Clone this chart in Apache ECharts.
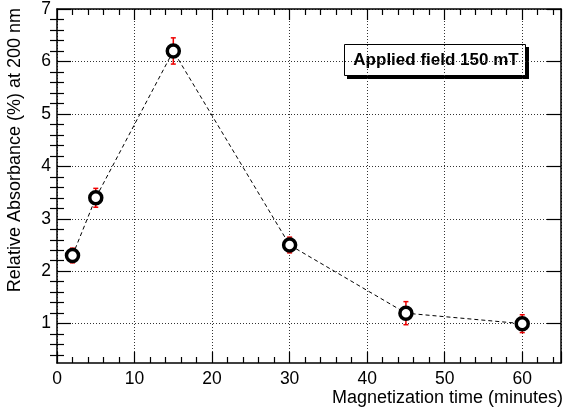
<!DOCTYPE html>
<html>
<head>
<meta charset="utf-8">
<script src="https://cdn.jsdelivr.net/npm/echarts@6/dist/echarts.min.js"></script>
<style>
    html, body { margin: 0; padding: 0; background: #fff; }
    #chart { width: 567px; height: 413px; }
</style>
</head>
<body>
<div id="chart"></div>
<script>
// magnetization time (minutes) and relative absorbance (%)
const times = [2, 5, 15, 30, 45, 60]
const absorb = [2.3, 3.4, 6.2, 2.5, 1.2, 1.0]
const errors = [0.14, 0.18, 0.25, 0.15, 0.22, 0.17]
const xMajor = [0, 10, 20, 30, 40, 50, 60]
const yMajor = [1, 2, 3, 4, 5, 6, 7]
const yMinor = [0.4, 0.6, 0.8, 1.2, 1.4, 1.6, 1.8, 2.2, 2.4, 2.6, 2.8, 3.2, 3.4, 3.6, 3.8,
    4.2, 4.4, 4.6, 4.8, 5.2, 5.4, 5.6, 5.8, 6.2, 6.4, 6.6, 6.8]

const font = 'Liberation Sans'
const points = times.map((t, i) => [t, absorb[i]])
const errData = times.map((t, i) => [t, absorb[i], errors[i]])

const xBase = {
    type: 'value',
    min: 0,
    max: 65,
    interval: 10,
    axisLine: { show: true, onZero: false, lineStyle: { color: '#000', width: 1.5 } },
    axisTick: { show: true, inside: true, length: 11, lineStyle: { color: '#000', width: 1.2 } },
    minorTick: { show: true, splitNumber: 5, length: 6, lineStyle: { color: '#000', width: 1.2 } },
}

const yBase = {
    type: 'value',
    min: 0.25,
    max: 7,
    axisLine: { show: true, onZero: false, lineStyle: { color: '#000', width: 1.5 } },
    axisTick: { show: true, inside: true, length: 14, customValues: yMajor, lineStyle: { color: '#000', width: 1.2 } },
}

const option = {
    animation: false,
    backgroundColor: '#fff',
    grid: { left: 57, right: 6, top: 9, bottom: 50 },
    xAxis: [
        Object.assign({}, xBase, {
            position: 'bottom',
            axisLabel: { color: '#000', fontSize: 17.5, fontFamily: font, margin: 7, customValues: xMajor },
            splitLine: { show: true, lineStyle: { color: '#333', type: [1, 2], width: 1 } },
        }),
        Object.assign({}, xBase, {
            position: 'top',
            axisLabel: { show: false },
            splitLine: { show: false },
        }),
    ],
    yAxis: [
        Object.assign({}, yBase, {
            position: 'left',
            axisLabel: { color: '#000', fontSize: 17.5, fontFamily: font, margin: 6, customValues: yMajor },
            splitLine: { show: true, lineStyle: { color: '#333', type: [1, 2], width: 1 } },
        }),
        Object.assign({}, yBase, {
            position: 'right',
            axisLabel: { show: false },
            splitLine: { show: false },
        }),
        // minor ticks on both sides
        Object.assign({}, yBase, {
            position: 'left',
            axisLine: { show: false },
            axisTick: { show: true, inside: true, length: 7, customValues: yMinor, lineStyle: { color: '#000', width: 1.2 } },
            axisLabel: { show: false },
            splitLine: { show: false },
        }),
        Object.assign({}, yBase, {
            position: 'right',
            axisLine: { show: false },
            axisTick: { show: true, inside: true, length: 7, customValues: yMinor, lineStyle: { color: '#000', width: 1.2 } },
            axisLabel: { show: false },
            splitLine: { show: false },
        }),
    ],
    graphic: [
        {
            type: 'text',
            x: 15, y: 8,
            rotation: Math.PI / 2,
            style: {
                text: 'Relative Absorbance (%) at 200 nm',
                fill: '#000', fontSize: 18, fontFamily: font,
                align: 'right', verticalAlign: 'middle',
            },
        },
        {
            type: 'text',
            x: 563, y: 398,
            style: {
                text: 'Magnetization time (minutes)',
                fill: '#000', fontSize: 18, fontFamily: font,
                align: 'right', verticalAlign: 'middle',
            },
        },
        {
            type: 'rect',
            shape: { x: 347, y: 47, width: 182, height: 32 },
            style: { fill: '#000' },
        },
        {
            type: 'rect',
            shape: { x: 344.5, y: 44.5, width: 181, height: 31 },
            style: { fill: '#fff', stroke: '#000', lineWidth: 1 },
        },
        {
            type: 'text',
            x: 436, y: 60.5,
            style: {
                text: 'Applied field 150 mT',
                fill: '#000', fontSize: 17, fontWeight: 'bold', fontFamily: font,
                align: 'center', verticalAlign: 'middle',
            },
        },
    ],
    series: [
        {
            type: 'line',
            data: points,
            symbol: 'none',
            lineStyle: { color: '#000', width: 1, type: [4, 3] },
            z: 2,
        },
        {
            type: 'custom',
            data: errData,
            z: 3,
            renderItem: (params, api) => {
                const x = api.value(0)
                const y = api.value(1)
                const e = api.value(2)
                const top = api.coord([x, y + e])
                const bot = api.coord([x, y - e])
                const w = 2.5
                const st = { stroke: '#e00', lineWidth: 1.5 }
                return {
                    type: 'group',
                    children: [
                        { type: 'line', shape: { x1: top[0], y1: top[1], x2: bot[0], y2: bot[1] }, style: st },
                        { type: 'line', shape: { x1: top[0] - w, y1: top[1], x2: top[0] + w, y2: top[1] }, style: st },
                        { type: 'line', shape: { x1: bot[0] - w, y1: bot[1], x2: bot[0] + w, y2: bot[1] }, style: st },
                    ],
                }
            },
        },
        {
            type: 'scatter',
            data: points,
            symbol: 'circle',
            symbolSize: 12,
            itemStyle: { color: '#fff', borderColor: '#000', borderWidth: 3.5, opacity: 1 },
            z: 4,
        },
    ],
}

const myChart = echarts.init(document.getElementById('chart'))
myChart.setOption(option)
</script>
</body>
</html>
